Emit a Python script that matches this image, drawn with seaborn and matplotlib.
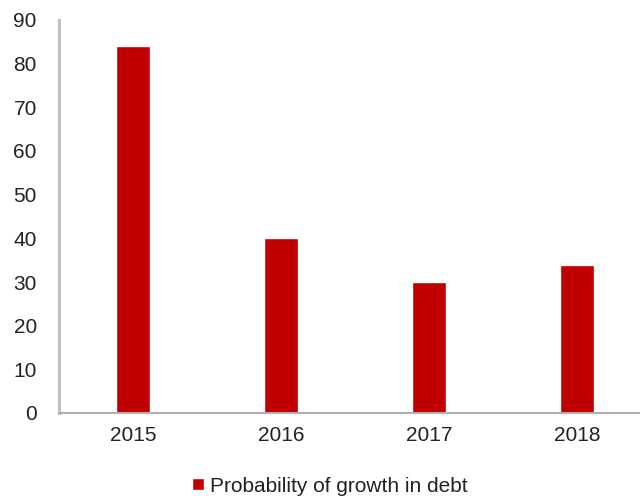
import matplotlib
matplotlib.use("Agg")
import matplotlib.pyplot as plt
import seaborn as sns
import pandas as pd

years = ["2015", "2016", "2017", "2018"]
values = [84, 40, 30, 34]
series_name = "Probability of growth in debt"
yticks = [0, 10, 20, 30, 40, 50, 60, 70, 80, 90]

sns.set_theme(style="white")
plt.rcParams["font.family"] = ["Liberation Sans", "DejaVu Sans"]

df = pd.DataFrame({"year": years, "value": values})

fig = plt.figure(figsize=(6.4, 4.96), dpi=100)
ax = fig.add_axes([59 / 640, 1 - 413 / 496, 592 / 640, 393 / 496])

sns.barplot(data=df, x="year", y="value", color="#C00000", width=0.225,
            saturation=1, ax=ax, label=series_name)

ax.set_ylim(0, 90)
ax.set_xlim(-0.5, 3.5)
ax.set_yticks(yticks)
ax.set_xlabel("")
ax.set_ylabel("")
for s in ["top", "right"]:
    ax.spines[s].set_visible(False)
ax.spines["left"].set_color("#C0C0C0")
ax.spines["left"].set_linewidth(2.2)
ax.spines["bottom"].set_color("#B0B0B0")
ax.spines["bottom"].set_linewidth(1.5)
ax.tick_params(axis="y", length=0, pad=16, labelsize=15, labelcolor="#222222")
ax.tick_params(axis="x", length=0, pad=9.5, labelsize=15, labelcolor="#222222")
ax.grid(False)

leg = ax.get_legend()
if leg is not None:
    leg.remove()
handles, labels = ax.get_legend_handles_labels()
fig.legend(handles, labels, loc="center", bbox_to_anchor=(330 / 640, 1 - 486 / 496),
           frameon=False, fontsize=15, handlelength=0.55, handleheight=0.5,
           handletextpad=0.3, labelcolor="#222222")

fig.savefig("out.png", dpi=100)
